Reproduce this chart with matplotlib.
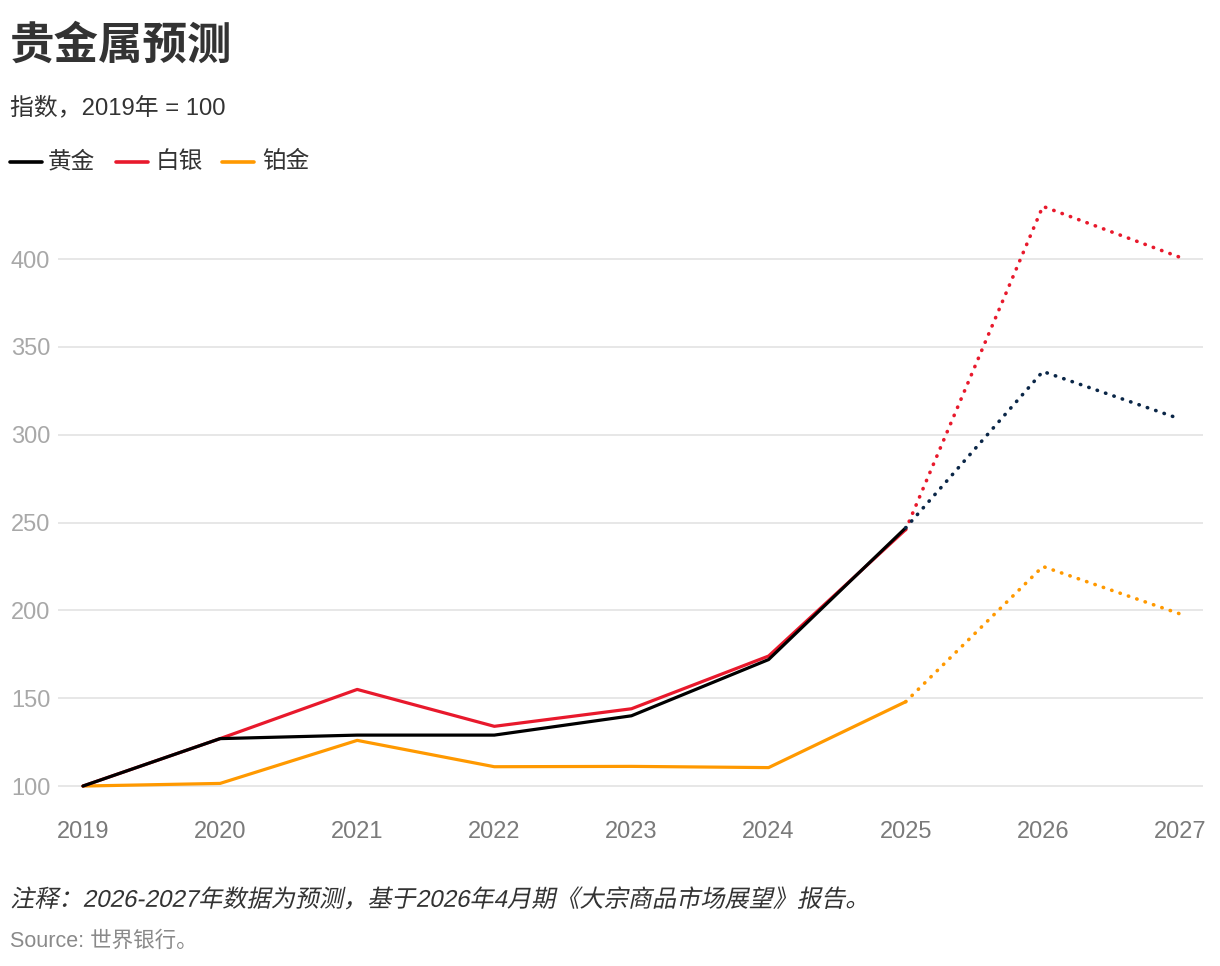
import matplotlib
matplotlib.use("Agg")
import matplotlib.pyplot as plt
from matplotlib.lines import Line2D
from matplotlib.patheffects import AbstractPathEffect
from matplotlib.transforms import Affine2D

plt.rcParams['font.family'] = ['Liberation Sans', 'Noto Sans CJK SC', 'DejaVu Sans']

years = [2019, 2020, 2021, 2022, 2023, 2024, 2025, 2026, 2027]
gold = [100, 127, 129, 129, 140, 172, 247, 336, 309]
silver = [100, 127, 155, 134, 144, 174, 246, 430, 401]
platinum = [100, 101.5, 126, 111, 111.2, 110.5, 148, 225, 198]
forecast_start = 2025

series_names = ['黄金', '白银', '铂金']
solid_colors = ['#000000', '#e8192c', '#ff9900']
dot_colors = ['#0a2647', '#e8192c', '#ff9900']
yticks = [100, 150, 200, 250, 300, 350, 400]


class Oblique(AbstractPathEffect):
    """Synthesise an oblique slant, as browsers do for fonts without italics."""
    def __init__(self, angle=12):
        super().__init__()
        self.angle = angle

    def draw_path(self, renderer, gc, tpath, affine, rgbFace=None):
        renderer.draw_path(gc, tpath, Affine2D().skew_deg(self.angle, 0) + affine, rgbFace)


W, H = 1220, 966
fig = plt.figure(figsize=(W / 100, H / 100), dpi=100)

def fx(px):
    return px / W

def fy(py):
    return 1 - py / H

ax_left, ax_right = 58, 1203
ax_top, ax_bottom = 180, 812.4
ax = fig.add_axes([fx(ax_left), fy(ax_bottom), (ax_right - ax_left) / W, (ax_bottom - ax_top) / H])
ax.set_xlim(2018.818, 2027.168)
ax.set_ylim(85, 445)
for s in ax.spines.values():
    s.set_visible(False)
ax.set_yticks(yticks)
ax.set_xticks(years)
ax.set_xticklabels([str(y) for y in years])
ax.grid(axis='y', color='#e3e3e3', linewidth=1.2)
ax.grid(axis='x', visible=False)
ax.set_axisbelow(True)
ax.tick_params(axis='y', length=0, pad=5.5, labelsize=17, labelcolor='#a8a8a8')
ax.tick_params(axis='x', length=0, pad=6.5, labelsize=17, labelcolor='#7a7a7a')

idx = years.index(forecast_start)
all_vals = [gold, silver, platinum]
for k in [2, 1, 0]:
    vals = all_vals[k]
    z = {0: 4, 1: 3, 2: 2}[k]
    ax.plot(years[:idx + 1], vals[:idx + 1], color=solid_colors[k], linewidth=2.3,
            solid_capstyle='round', solid_joinstyle='round', zorder=z)
    ax.plot(years[idx:], vals[idx:], color=dot_colors[k], linewidth=2.6,
            linestyle=(0, (0.1, 2.35)), dash_capstyle='round', zorder=z)

# Title and subtitle
fig.text(fx(10), fy(46), '贵金属预测', fontsize=32, fontweight='bold', color='#333333',
         va='center', ha='left')
fig.text(fx(10), fy(108), '指数，2019年 = 100', fontsize=17.2, color='#333333',
         va='center', ha='left')

# Legend
leg_y = 162
leg_items = [(10, 42, 48), (116, 148, 156), (222, 254, 262)]
for (x0, x1, xt), name, c in zip(leg_items, series_names, solid_colors):
    fig.add_artist(Line2D([fx(x0), fx(x1)], [fy(leg_y), fy(leg_y)], color=c,
                          linewidth=2.6, solid_capstyle='round', transform=fig.transFigure))
    fig.text(fx(xt), fy(leg_y), name, fontsize=17, color='#333333', va='center', ha='left')

# Notes
fig.text(fx(10), fy(900), '注释：2026-2027年数据为预测，基于2026年4月期《大宗商品市场展望》报告。',
         fontsize=17.4, color='#333333', va='center', ha='left',
         path_effects=[Oblique(12)])
fig.text(fx(10), fy(941), 'Source: 世界银行。', fontsize=15.5, color='#8a8a8a',
         va='center', ha='left')

fig.savefig('out.png', dpi=100)
